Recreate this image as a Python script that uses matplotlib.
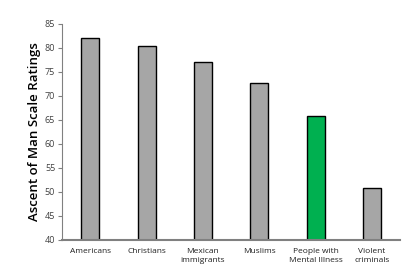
import matplotlib
matplotlib.use("Agg")
import matplotlib.pyplot as plt
import numpy as np

categories = ["Americans", "Christians", "Mexican\nimmigrants", "Muslims",
              "People with\nMental Illness", "Violent\ncriminals"]
ratings = [82.0, 80.4, 77.0, 72.7, 65.7, 50.7]
bar_colors = ["#A6A6A6", "#A6A6A6", "#A6A6A6", "#A6A6A6", "#00B050", "#A6A6A6"]
yticks = [40, 45, 50, 55, 60, 65, 70, 75, 80, 85]

plt.rcParams['font.family'] = ['Open Sans', 'DejaVu Sans']

fig = plt.figure(figsize=(4.09, 2.76), dpi=100)
ax = fig.add_axes([0.152, 0.132, 0.826, 0.782])

x = np.arange(len(categories))
ax.bar(x, ratings, width=0.32, color=bar_colors, edgecolor="black", linewidth=1.0,
       bottom=0, zorder=2)

ax.set_xlim(-0.5, len(categories) - 0.5)
ax.set_ylim(40, 85)
ax.set_yticks(yticks)
ax.set_yticklabels([str(t) for t in yticks], fontsize=6.5, color="#404040")
ax.set_xticks(x)
ax.set_xticklabels(categories, fontsize=6, color="#202020", linespacing=1.5)
ax.tick_params(axis="x", length=0, pad=6)
ax.tick_params(axis="y", length=3, width=0.8, color="#808080", pad=2)

for s in ["top", "right"]:
    ax.spines[s].set_visible(False)
for s in ["left", "bottom"]:
    ax.spines[s].set_color("#808080")
ax.spines["left"].set_linewidth(0.8)
ax.spines["bottom"].set_linewidth(1.5)

ax.set_ylabel("Ascent of Man Scale Ratings", fontsize=9.5, fontweight="semibold",
              labelpad=3)

fig.savefig("out.png", dpi=100)
